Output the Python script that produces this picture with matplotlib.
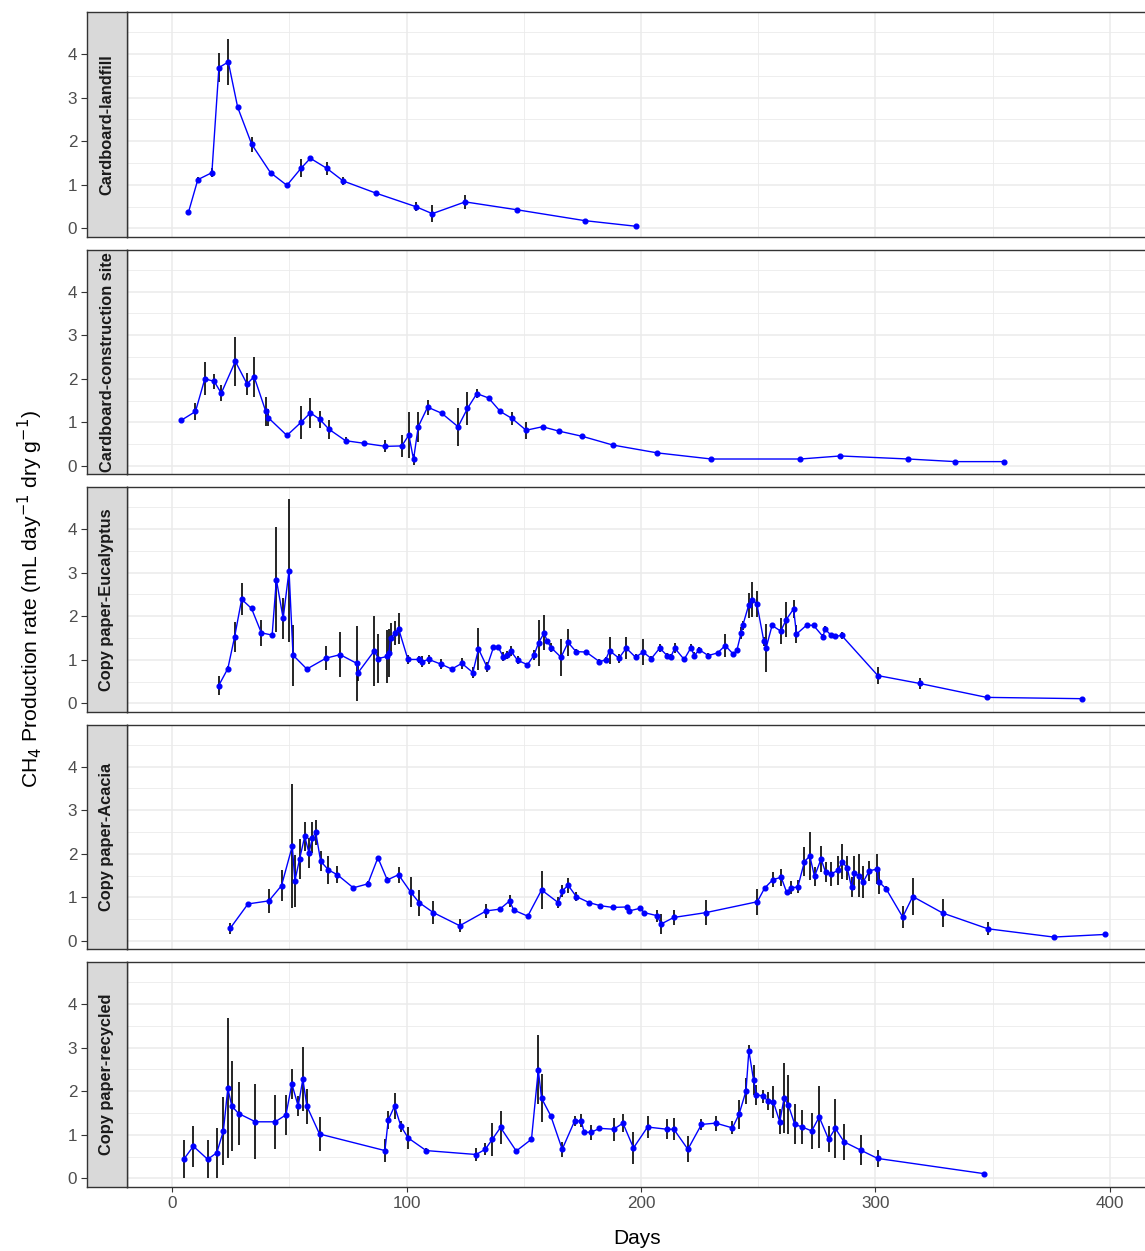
import matplotlib
matplotlib.use("Agg")
import matplotlib.pyplot as plt
from matplotlib.ticker import MultipleLocator

plt.rcParams['font.family'] = ['Liberation Sans', 'DejaVu Sans']

# panel names, top to bottom
panels = ["Cardboard-landfill", "Cardboard-construction site",
          "Copy paper-Eucalyptus", "Copy paper-Acacia", "Copy paper-recycled"]

# Cardboard-landfill
days_cl = [7, 11, 17, 20, 24, 28, 34, 42, 49, 55, 59, 66, 73, 87, 104, 111, 125, 147, 176, 198]
rate_cl = [0.37, 1.12, 1.28, 3.69, 3.82, 2.78, 1.93, 1.28, 0.99, 1.38, 1.61, 1.38, 1.09, 0.81,
           0.50, 0.34, 0.61, 0.43, 0.18, 0.05]
err_cl = [0.03, 0.05, 0.10, 0.34, 0.53, 0.04, 0.17, 0.04, 0.04, 0.21, 0.04, 0.15, 0.10, 0.05,
          0.10, 0.19, 0.16, 0.05, 0.03, 0.03]

# Cardboard-construction site
days_cc = [4, 10, 14, 18, 21, 27, 32, 35, 40, 41, 49, 55, 59, 63, 67, 74, 82, 91, 98, 101,
           103, 105, 109, 115, 122, 126, 130, 135, 140, 145, 151, 158, 165, 175, 188, 207, 230,
           268, 285, 314, 334, 355]
rate_cc = [1.05, 1.25, 2.00, 1.94, 1.67, 2.40, 1.88, 2.05, 1.25, 1.11, 0.70, 1.00, 1.22, 1.07,
           0.84, 0.58, 0.52, 0.45, 0.46, 0.71, 0.15, 0.90, 1.35, 1.21, 0.90, 1.32, 1.66, 1.56,
           1.25, 1.09, 0.82, 0.90, 0.80, 0.68, 0.48, 0.30, 0.16, 0.16, 0.23, 0.16, 0.10, 0.10]
err_cc = [0.03, 0.19, 0.38, 0.18, 0.18, 0.57, 0.25, 0.46, 0.33, 0.20, 0.03, 0.37, 0.35, 0.20,
          0.21, 0.08, 0.06, 0.14, 0.25, 0.52, 0.13, 0.34, 0.17, 0.05, 0.44, 0.38, 0.10, 0.04,
          0.05, 0.14, 0.20, 0.04, 0.04, 0.06, 0.05, 0.04, 0.03, 0.04, 0.04, 0.04, 0.04, 0.04]

# Copy paper-Eucalyptus
days_eu = [19.9, 23.8, 26.7, 29.7, 33.9, 38.1, 42.7, 44.5, 47.4, 49.9, 51.6, 57.5, 65.7, 71.7,
           78.8, 79.4, 86.3, 87.9, 91.7, 92.5, 93.2, 95.2, 96.6, 100.6, 105.3, 106.5, 109.5,
           114.8, 119.3, 123.6, 128.3, 130.7, 134.3, 137.1, 139.0, 141.3, 142.7, 144.4, 147.4,
           151.6, 154.4, 156.3, 158.7, 159.9, 161.7, 165.9, 168.9, 172.3, 176.6, 182.3, 184.9,
           186.6, 190.6, 193.7, 197.7, 200.9, 204.4, 208.0, 211.3, 212.7, 214.4, 218.4, 221.3,
           222.7, 224.9, 228.7, 232.7, 235.9, 239.4, 240.9, 242.7, 243.4, 245.9, 247.4, 249.4,
           252.4, 253.4, 255.9, 259.6, 261.9, 265.1, 266.3, 270.7, 273.6, 277.7, 278.4, 281.0,
           282.7, 285.6, 301.0, 318.8, 347.4, 388.0]
rate_eu = [0.41, 0.80, 1.53, 2.39, 2.18, 1.62, 1.57, 2.84, 1.95, 3.05, 1.11, 0.79, 1.04, 1.12,
           0.92, 0.71, 1.21, 1.03, 1.08, 1.15, 1.50, 1.62, 1.72, 1.01, 1.01, 0.96, 1.01,
           0.90, 0.79, 0.92, 0.71, 1.25, 0.84, 1.29, 1.30, 1.07, 1.11, 1.21, 0.99,
           0.89, 1.11, 1.39, 1.62, 1.44, 1.28, 1.06, 1.40, 1.19, 1.18, 0.96, 1.00,
           1.21, 1.04, 1.27, 1.06, 1.18, 1.03, 1.27, 1.09, 1.07, 1.27, 1.01, 1.28,
           1.10, 1.23, 1.10, 1.16, 1.33, 1.13, 1.22, 1.62, 1.79, 2.25, 2.38, 2.29,
           1.43, 1.28, 1.79, 1.66, 1.92, 2.17, 1.59, 1.80, 1.79, 1.53, 1.71, 1.57,
           1.54, 1.56, 0.64, 0.46, 0.14, 0.11]
err_eu = [0.22, 0.05, 0.34, 0.37, 0.05, 0.30, 0.05, 1.20, 0.46, 1.63, 0.70, 0.05, 0.27, 0.52,
          0.86, 0.20, 0.80, 0.56, 0.60, 0.55, 0.35, 0.28, 0.36, 0.11, 0.09, 0.13, 0.11,
          0.12, 0.05, 0.12, 0.13, 0.48, 0.12, 0.05, 0.05, 0.10, 0.10, 0.12, 0.09,
          0.04, 0.12, 0.52, 0.40, 0.05, 0.11, 0.42, 0.30, 0.05, 0.05, 0.05, 0.07,
          0.31, 0.10, 0.25, 0.07, 0.30, 0.05, 0.10, 0.06, 0.07, 0.12, 0.05, 0.08,
          0.09, 0.07, 0.05, 0.05, 0.26, 0.05, 0.05, 0.13, 0.10, 0.29, 0.40, 0.30,
          0.10, 0.55, 0.05, 0.30, 0.40, 0.20, 0.20, 0.05, 0.05, 0.07, 0.06, 0.05,
          0.05, 0.08, 0.20, 0.12, 0.04, 0.04]

# Copy paper-Acacia
days_ac = [24.8, 32.4, 41.3, 46.7, 51.3, 52.4, 54.4, 56.6, 58.4, 59.9, 61.3, 63.4, 66.7, 70.5,
           77.3, 83.5, 87.8, 91.8, 96.6, 101.8, 105.4, 111.5, 122.7, 134.0, 139.8, 144.0, 145.7,
           151.7, 157.6, 164.7, 166.5, 168.9, 172.4, 177.9, 182.6, 187.9, 193.9, 195.0, 199.6,
           201.4, 206.9, 208.6, 214.0, 227.6, 249.6, 252.7, 256.3, 259.8, 262.1, 264.1, 266.9,
           269.7, 272.0, 274.0, 276.8, 278.7, 281.1, 284.0, 285.8, 288.0, 289.8, 291.0, 292.9,
           294.7, 297.4, 300.7, 301.4, 304.5, 311.6, 315.9, 328.7, 347.9, 376.0, 398.0]
rate_ac = [0.29, 0.85, 0.92, 1.27, 2.18, 1.38, 1.88, 2.40, 2.02, 2.37, 2.49, 1.83, 1.63, 1.52,
           1.22, 1.31, 1.91, 1.40, 1.52, 1.12, 0.88, 0.65, 0.35, 0.69, 0.73, 0.92, 0.71,
           0.57, 1.17, 0.88, 1.15, 1.28, 1.02, 0.88, 0.81, 0.77, 0.78, 0.69, 0.75,
           0.65, 0.58, 0.39, 0.54, 0.65, 0.90, 1.21, 1.41, 1.46, 1.12, 1.22, 1.24,
           1.82, 1.95, 1.48, 1.88, 1.58, 1.54, 1.62, 1.82, 1.67, 1.23, 1.55, 1.50,
           1.35, 1.61, 1.65, 1.36, 1.20, 0.55, 1.02, 0.64, 0.28, 0.09, 0.15]
err_ac = [0.13, 0.05, 0.28, 0.35, 1.43, 0.60, 0.45, 0.33, 0.35, 0.35, 0.28, 0.23, 0.33, 0.20,
          0.04, 0.07, 0.04, 0.07, 0.18, 0.34, 0.30, 0.27, 0.15, 0.16, 0.04, 0.14, 0.04,
          0.04, 0.44, 0.12, 0.13, 0.17, 0.10, 0.04, 0.04, 0.04, 0.04, 0.04, 0.04,
          0.04, 0.14, 0.24, 0.17, 0.29, 0.30, 0.05, 0.17, 0.19, 0.05, 0.15, 0.15,
          0.33, 0.56, 0.21, 0.30, 0.23, 0.28, 0.33, 0.40, 0.28, 0.23, 0.39, 0.50,
          0.36, 0.23, 0.35, 0.29, 0.05, 0.25, 0.42, 0.33, 0.15, 0.03, 0.03]

# Copy paper-recycled
days_re = [5.0, 9.1, 15.2, 19.1, 21.9, 23.8, 25.5, 28.4, 35.6, 44.0, 48.6, 51.1, 53.8, 55.8,
           57.5, 62.9, 90.8, 92.2, 94.9, 97.6, 100.7, 108.4, 129.7, 133.6, 136.6, 140.1, 146.8,
           153.3, 156.2, 157.6, 161.5, 166.4, 171.7, 174.5, 175.8, 178.8, 182.3, 188.4, 192.3,
           196.8, 202.8, 211.0, 214.0, 220.0, 225.8, 231.9, 239.0, 241.8, 244.8, 246.0, 248.0,
           249.2, 252.1, 254.1, 256.4, 259.2, 261.0, 262.8, 265.6, 268.8, 272.8, 276.0, 280.0,
           282.9, 286.6, 293.7, 300.9, 346.4]
rate_re = [0.44, 0.74, 0.44, 0.59, 1.09, 2.07, 1.66, 1.49, 1.30, 1.30, 1.46, 2.17, 1.66, 2.28,
           1.66, 1.02, 0.64, 1.34, 1.66, 1.20, 0.93, 0.64, 0.55, 0.67, 0.90, 1.17, 0.63,
           0.90, 2.49, 1.84, 1.44, 0.67, 1.32, 1.32, 1.06, 1.06, 1.15, 1.13, 1.27,
           0.70, 1.18, 1.13, 1.13, 0.67, 1.24, 1.27, 1.16, 1.47, 2.01, 2.93, 2.26,
           1.92, 1.89, 1.78, 1.76, 1.30, 1.84, 1.69, 1.24, 1.18, 1.09, 1.41, 0.90,
           1.15, 0.84, 0.65, 0.46, 0.11]
err_re = [0.44, 0.47, 0.44, 0.57, 0.79, 1.60, 1.04, 0.73, 0.86, 0.62, 0.46, 0.35, 0.23, 0.74,
          0.40, 0.38, 0.26, 0.20, 0.30, 0.13, 0.26, 0.05, 0.16, 0.14, 0.38, 0.37, 0.05,
          0.05, 0.79, 0.55, 0.05, 0.17, 0.12, 0.15, 0.05, 0.17, 0.05, 0.26, 0.21,
          0.36, 0.26, 0.23, 0.25, 0.30, 0.13, 0.17, 0.15, 0.34, 0.29, 0.13, 0.35,
          0.23, 0.15, 0.21, 0.37, 0.29, 0.80, 0.68, 0.46, 0.40, 0.41, 0.71, 0.30,
          0.68, 0.42, 0.34, 0.20, 0.03]

series = [(days_cl, rate_cl, err_cl), (days_cc, rate_cc, err_cc), (days_eu, rate_eu, err_eu),
          (days_ac, rate_ac, err_ac), (days_re, rate_re, err_re)]

W, H = 1145, 1251
fig = plt.figure(figsize=(W / 100, H / 100), dpi=100)

border = '#333333'
x_left, x_right = -19.2, 415.8
y_low, y_high = -0.184, 4.966

for i, (name, (d, r, e)) in enumerate(zip(panels, series)):
    top = 12 + i * 237.5
    bottom = top + 224.5
    ax = fig.add_axes([127 / W, 1 - bottom / H, 1020 / W, 224.5 / H])
    st = fig.add_axes([87 / W, 1 - bottom / H, 40 / W, 224.5 / H])

    ax.errorbar(d, r, yerr=e, fmt='none', ecolor='black', elinewidth=1.2, capsize=0, zorder=2)
    ax.plot(d, r, color='#0000FF', linewidth=1.0, marker='o', markersize=3.4, zorder=3)

    ax.set_xlim(x_left, x_right)
    ax.set_ylim(y_low, y_high)
    ax.xaxis.set_major_locator(MultipleLocator(100))
    ax.xaxis.set_minor_locator(MultipleLocator(50))
    ax.yaxis.set_major_locator(MultipleLocator(1))
    ax.yaxis.set_minor_locator(MultipleLocator(0.5))
    ax.grid(which='major', color='#EBEBEB', linewidth=1.1)
    ax.grid(which='minor', color='#EBEBEB', linewidth=0.6)
    ax.set_axisbelow(True)
    ax.tick_params(axis='y', which='both', length=0, labelleft=False)
    ax.tick_params(axis='x', which='minor', length=0)
    if i == 4:
        ax.tick_params(axis='x', which='major', length=3.5, width=0.8, color=border,
                       labelsize=12.3, labelcolor='#4D4D4D', pad=3)
        ax.set_xlabel("Days", fontsize=15, labelpad=13)
    else:
        ax.tick_params(axis='x', which='major', length=0, labelbottom=False)
    for s in ax.spines.values():
        s.set_color(border)
        s.set_linewidth(1.0)

    # facet strip on the left, carrying the y ticks
    st.set_facecolor('#D9D9D9')
    st.set_ylim(y_low, y_high)
    st.set_xticks([])
    st.set_yticks([0, 1, 2, 3, 4])
    st.tick_params(axis='y', length=4, width=0.8, color=border, labelsize=12.3,
                   labelcolor='#4D4D4D', pad=3)
    for s in st.spines.values():
        s.set_color(border)
        s.set_linewidth(1.0)
    st.text(0.5, 0.5, name, transform=st.transAxes, rotation=90, ha='center', va='center',
            fontsize=11.8, fontweight='bold', color='#1A1A1A')

fig.text(30 / W, 1 - 599 / H, r"CH$_4$ Production rate (mL day$^{-1}$ dry g$^{-1}$)",
         rotation=90, ha='center', va='center', fontsize=15.2)

fig.savefig("out.png", dpi=100)
